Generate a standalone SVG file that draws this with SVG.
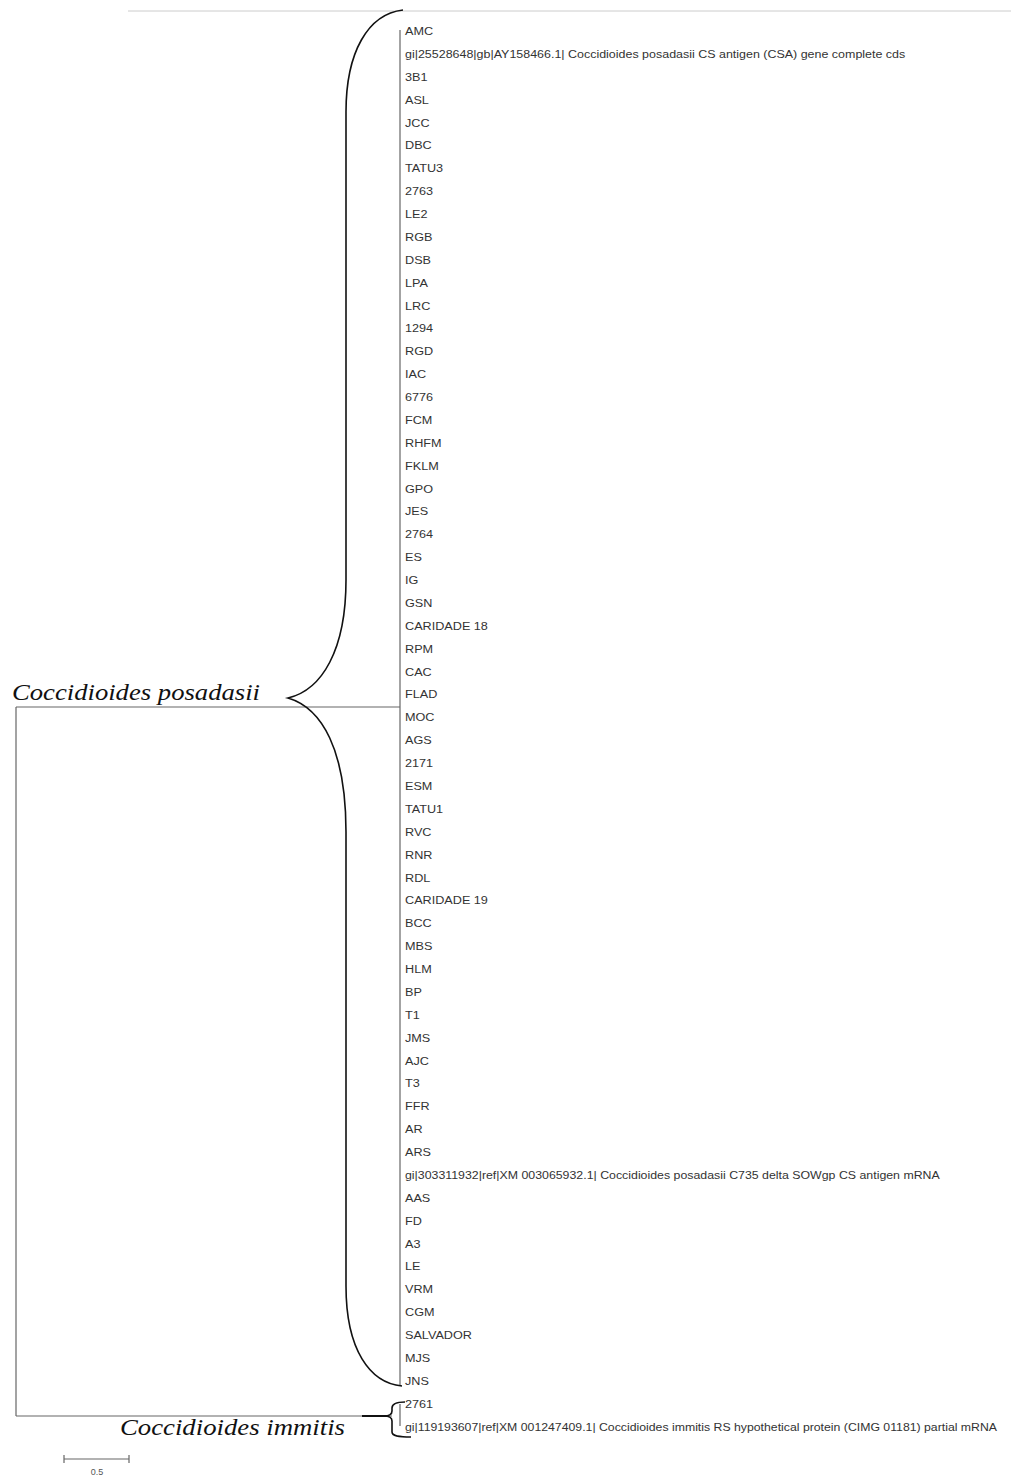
<svg xmlns="http://www.w3.org/2000/svg" width="1011" height="1479" viewBox="0 0 1011 1479">
<style>
.tl{font-family:"Liberation Sans",Arial,sans-serif;font-size:11px;fill:#333}
.sp{font-family:"Liberation Serif","Times New Roman",serif;font-style:italic;font-size:23px;fill:#111}
.br{fill:none;stroke:#111;stroke-width:1.6}
.ln{fill:none;stroke:#666;stroke-width:1.2}
</style>
<rect width="1011" height="1479" fill="#fff"/>
<line x1="128" y1="11" x2="1011" y2="11" stroke="#ccc" stroke-width="1"/>
<g id="connectors">
<line class="ln" x1="400" y1="30" x2="400" y2="1385"/>
<line class="ln" x1="16" y1="707" x2="400" y2="707"/>
<line class="ln" x1="16" y1="707" x2="16" y2="1416"/>
<line class="ln" x1="16" y1="1416" x2="392" y2="1416"/>
<line class="ln" x1="400" y1="1404" x2="400" y2="1426"/>
<line x1="362" y1="1416" x2="388" y2="1416" stroke="#111" stroke-width="2"/>
</g>
<g id="brace-posadasii">
<path class="br" d="M403,10 C368,14 346,52 346,112 L346,580 C346,650 322,690 288,698 C322,708 346,750 346,832 L346,1286 C346,1350 370,1383 402,1386"/>
</g>
<g id="brace-immitis">
<path class="br" d="M405,1402 C396,1402 392,1404 392,1408 L392,1411 C392,1414 389,1416 384,1416 C389,1416 392,1418 392,1421 L392,1432 C392,1436 398,1437 411,1437"/>
</g>
<g id="label-posadasii"><text class="sp" x="12" y="700" textLength="248" lengthAdjust="spacingAndGlyphs">Coccidioides posadasii</text></g>
<g id="label-immitis"><text class="sp" x="120" y="1435" textLength="225" lengthAdjust="spacingAndGlyphs">Coccidioides immitis</text></g>
<g id="taxa" transform="translate(405,0) scale(1.15,1)">
<text class="tl" x="0" y="35">AMC</text>
<text class="tl" x="0" y="58" textLength="435" lengthAdjust="spacingAndGlyphs">gi|25528648|gb|AY158466.1| Coccidioides posadasii CS antigen (CSA) gene complete cds</text>
<text class="tl" x="0" y="81">3B1</text>
<text class="tl" x="0" y="104">ASL</text>
<text class="tl" x="0" y="127">JCC</text>
<text class="tl" x="0" y="149">DBC</text>
<text class="tl" x="0" y="172">TATU3</text>
<text class="tl" x="0" y="195">2763</text>
<text class="tl" x="0" y="218">LE2</text>
<text class="tl" x="0" y="241">RGB</text>
<text class="tl" x="0" y="264">DSB</text>
<text class="tl" x="0" y="287">LPA</text>
<text class="tl" x="0" y="310">LRC</text>
<text class="tl" x="0" y="332">1294</text>
<text class="tl" x="0" y="355">RGD</text>
<text class="tl" x="0" y="378">IAC</text>
<text class="tl" x="0" y="401">6776</text>
<text class="tl" x="0" y="424">FCM</text>
<text class="tl" x="0" y="447">RHFM</text>
<text class="tl" x="0" y="470">FKLM</text>
<text class="tl" x="0" y="493">GPO</text>
<text class="tl" x="0" y="515">JES</text>
<text class="tl" x="0" y="538">2764</text>
<text class="tl" x="0" y="561">ES</text>
<text class="tl" x="0" y="584">IG</text>
<text class="tl" x="0" y="607">GSN</text>
<text class="tl" x="0" y="630">CARIDADE 18</text>
<text class="tl" x="0" y="653">RPM</text>
<text class="tl" x="0" y="676">CAC</text>
<text class="tl" x="0" y="698">FLAD</text>
<text class="tl" x="0" y="721">MOC</text>
<text class="tl" x="0" y="744">AGS</text>
<text class="tl" x="0" y="767">2171</text>
<text class="tl" x="0" y="790">ESM</text>
<text class="tl" x="0" y="813">TATU1</text>
<text class="tl" x="0" y="836">RVC</text>
<text class="tl" x="0" y="859">RNR</text>
<text class="tl" x="0" y="882">RDL</text>
<text class="tl" x="0" y="904">CARIDADE 19</text>
<text class="tl" x="0" y="927">BCC</text>
<text class="tl" x="0" y="950">MBS</text>
<text class="tl" x="0" y="973">HLM</text>
<text class="tl" x="0" y="996">BP</text>
<text class="tl" x="0" y="1019">T1</text>
<text class="tl" x="0" y="1042">JMS</text>
<text class="tl" x="0" y="1065">AJC</text>
<text class="tl" x="0" y="1087">T3</text>
<text class="tl" x="0" y="1110">FFR</text>
<text class="tl" x="0" y="1133">AR</text>
<text class="tl" x="0" y="1156">ARS</text>
<text class="tl" x="0" y="1179" textLength="465" lengthAdjust="spacingAndGlyphs">gi|303311932|ref|XM 003065932.1| Coccidioides posadasii C735 delta SOWgp CS antigen mRNA</text>
<text class="tl" x="0" y="1202">AAS</text>
<text class="tl" x="0" y="1225">FD</text>
<text class="tl" x="0" y="1248">A3</text>
<text class="tl" x="0" y="1270">LE</text>
<text class="tl" x="0" y="1293">VRM</text>
<text class="tl" x="0" y="1316">CGM</text>
<text class="tl" x="0" y="1339">SALVADOR</text>
<text class="tl" x="0" y="1362">MJS</text>
<text class="tl" x="0" y="1385">JNS</text>
<text class="tl" x="0" y="1408">2761</text>
</g>
<g id="taxon-immitis-gi">
<text class="tl" x="405" y="1431" textLength="592" lengthAdjust="spacingAndGlyphs">gi|119193607|ref|XM 001247409.1| Coccidioides immitis RS hypothetical protein (CIMG 01181) partial mRNA</text>
</g>
<g id="scale-bar">
<line class="ln" x1="64" y1="1459" x2="129" y2="1459"/>
<line class="ln" x1="64" y1="1455" x2="64" y2="1463"/>
<line class="ln" x1="129" y1="1455" x2="129" y2="1463"/>
<text x="97" y="1475" text-anchor="middle" style="font-family:'Liberation Sans',Arial,sans-serif;font-size:9px;fill:#555">0.5</text>
</g>
</svg>
